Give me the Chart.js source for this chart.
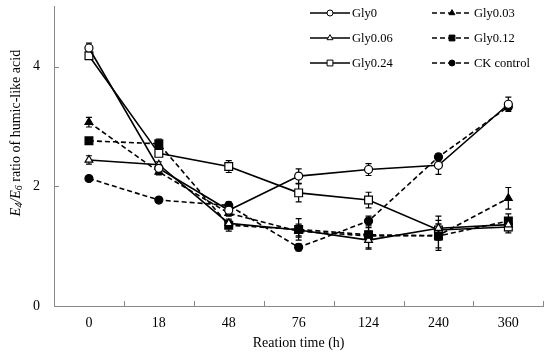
<!DOCTYPE html>
<html>
<head>
<meta charset="utf-8">
<script src="https://cdn.jsdelivr.net/npm/chart.js@4.4.0/dist/chart.umd.min.js"></script>
<style>
  html, body { margin: 0; padding: 0; background: #fff; }
</style>
</head>
<body>
<canvas id="mycanvas" width="550" height="358"></canvas>
<script>
// reaction time categories (h)
var times = ['0', '18', '48', '76', '124', '240', '360'];
var yTicks = [0, 2, 4];

// E4/E6 ratio
var gly0   = [4.31, 2.30, 1.60, 2.17, 2.28, 2.35, 3.37];
var gly003 = [3.07, 2.24, 1.55, 1.25, 1.17, 1.18, 1.80];
var gly006 = [2.44, 2.36, 1.38, 1.27, 1.10, 1.30, 1.36];
var gly012 = [2.76, 2.71, 1.35, 1.28, 1.19, 1.17, 1.42];
var gly024 = [4.18, 2.55, 2.33, 1.89, 1.77, 1.27, 1.32];
var ck     = [2.13, 1.77, 1.68, 0.98, 1.42, 2.49, 3.33];

// error bar half-widths
var err0   = [0.08, 0.05, 0.08, 0.12, 0.10, 0.15, 0.12];
var err003 = [0.08, 0.05, 0.05, 0.10, 0.20, 0.25, 0.18];
var err006 = [0.07, 0.05, 0.05, 0.10, 0.15, 0.20, 0.10];
var err012 = [0.05, 0.08, 0.10, 0.18, 0.12, 0.20, 0.12];
var err024 = [0.05, 0.05, 0.10, 0.15, 0.13, 0.10, 0.10];
var errCk  = [0.04, 0.04, 0.06, 0.06, 0.08, 0.05, 0.05];

var serif = "'Liberation Serif', 'Times New Roman', serif";

function series(label, data, errs, style, filled, dashed, radius) {
    return {
        label: label,
        data: data,
        errors: errs,
        borderColor: '#000',
        backgroundColor: '#000',
        borderWidth: 1.6,
        borderDash: dashed ? [5, 3] : [],
        pointStyle: style,
        pointRadius: radius,
        pointBorderWidth: 1.2,
        pointBorderColor: '#000',
        pointBackgroundColor: filled ? '#000' : '#fff',
        tension: 0
    };
}

var datasets = [
    series('Gly0', gly0, err0, 'circle', false, false, 4),
    series('Gly0.03', gly003, err003, 'triangle', true, true, 4.5),
    series('Gly0.06', gly006, err006, 'triangle', false, false, 4.5),
    series('Gly0.12', gly012, err012, 'rect', true, true, 5.5),
    series('Gly0.24', gly024, err024, 'rect', false, false, 5.5),
    series('CK control', ck, errCk, 'circle', true, true, 4)
];

// error bars, drawn under the markers
var errorBars = {
    id: 'errorBars',
    beforeDatasetsDraw: function(chart) {
        var ctx = chart.ctx;
        var xs = chart.scales.x, ys = chart.scales.y;
        ctx.save();
        ctx.strokeStyle = '#000';
        ctx.lineWidth = 1.2;
        ctx.setLineDash([]);
        chart.data.datasets.forEach(function(ds) {
            ds.data.forEach(function(v, i) {
                var e = ds.errors[i];
                var x = xs.getPixelForValue(i);
                var y1 = ys.getPixelForValue(v + e), y2 = ys.getPixelForValue(v - e);
                ctx.beginPath();
                ctx.moveTo(x, y1); ctx.lineTo(x, y2);
                ctx.moveTo(x - 3, y1); ctx.lineTo(x + 3, y1);
                ctx.moveTo(x - 3, y2); ctx.lineTo(x + 3, y2);
                ctx.stroke();
            });
        });
        ctx.restore();
    }
};

// inward tick marks, y title and the two-column legend
var decorations = {
    id: 'decorations',
    afterDraw: function(chart) {
        var ctx = chart.ctx;
        var xs = chart.scales.x, ys = chart.scales.y;
        var area = chart.chartArea;
        ctx.save();
        ctx.strokeStyle = '#888';
        ctx.lineWidth = 1;
        ctx.beginPath();
        yTicks.forEach(function(v) {
            var y = Math.round(ys.getPixelForValue(v)) + 0.5;
            ctx.moveTo(area.left, y); ctx.lineTo(area.left + 5, y);
        });
        for (var i = 1; i <= times.length; i++) {
            var x = Math.round(xs.getPixelForValue(i - 0.5)) + 0.5;
            ctx.moveTo(x, area.bottom); ctx.lineTo(x, area.bottom - 5);
        }
        ctx.stroke();

        // y axis title with italic E and subscripts
        var parts = [
            { t: 'E', f: 'italic 14px ' + serif, dy: 0 },
            { t: '4', f: 'italic 10px ' + serif, dy: 3 },
            { t: '/', f: 'italic 14px ' + serif, dy: 0 },
            { t: 'E', f: 'italic 14px ' + serif, dy: 0 },
            { t: '6', f: 'italic 10px ' + serif, dy: 3 },
            { t: ' ratio of humic-like acid', f: '14px ' + serif, dy: 0 }
        ];
        var total = 0;
        parts.forEach(function(p) { ctx.font = p.f; p.w = ctx.measureText(p.t).width; total += p.w; });
        ctx.translate(16, 133);
        ctx.rotate(-Math.PI / 2);
        ctx.fillStyle = '#000';
        ctx.textBaseline = 'middle';
        var px = -total / 2;
        parts.forEach(function(p) {
            ctx.font = p.f;
            ctx.fillText(p.t, px, p.dy);
            px += p.w;
        });
        ctx.setTransform(1, 0, 0, 1, 0, 0);

        // legend: three rows, two columns
        var cols = [310, 432], rows = [13, 38, 63];
        chart.data.datasets.forEach(function(ds, k) {
            var x0 = cols[k % 2], y = rows[Math.floor(k / 2)];
            ctx.strokeStyle = '#000';
            ctx.lineWidth = 1.6;
            ctx.setLineDash(ds.borderDash);
            ctx.beginPath();
            ctx.moveTo(x0, y); ctx.lineTo(x0 + 40, y);
            ctx.stroke();
            ctx.setLineDash([]);
            ctx.lineWidth = 1;
            ctx.fillStyle = ds.pointBackgroundColor;
            Chart.helpers.drawPoint(ctx, { pointStyle: ds.pointStyle, radius: ds.pointRadius * 0.75, rotation: 0, borderWidth: 1 }, x0 + 20, y);
            ctx.fillStyle = '#000';
            ctx.font = '12.5px ' + serif;
            ctx.textBaseline = 'middle';
            ctx.fillText(ds.label, x0 + 42, y + 1);
        });
        ctx.restore();
    }
};

new Chart(document.getElementById('mycanvas'), {
    type: 'line',
    data: { labels: times, datasets: datasets },
    options: {
        responsive: false,
        animation: false,
        devicePixelRatio: 1,
        layout: { padding: { top: 1, right: 6, left: 0, bottom: 0 } },
        plugins: { legend: { display: false }, tooltip: { enabled: false } },
        scales: {
            x: {
                type: 'category',
                offset: true,
                grid: { display: false, drawTicks: false },
                border: { display: true, color: '#888', width: 1 },
                ticks: { color: '#000', font: { family: serif, size: 14 }, padding: 9, maxRotation: 0 },
                title: { display: true, text: 'Reation time (h)', color: '#000', font: { family: serif, size: 14 }, padding: { top: 4, bottom: 6 } },
                afterFit: function(s) { s.height = 52; s.paddingLeft = 0; s.paddingRight = 0; }
            },
            y: {
                min: 0,
                max: 5,
                grid: { display: false, drawTicks: false },
                border: { display: true, color: '#888', width: 1 },
                ticks: { color: '#000', font: { family: serif, size: 14 }, padding: 14 },
                afterBuildTicks: function(s) { s.ticks = yTicks.map(function(v) { return { value: v }; }); },
                afterFit: function(s) { s.width = 54; s.paddingTop = 0; s.paddingBottom = 0; }
            }
        }
    },
    plugins: [errorBars, decorations]
});
</script>
</body>
</html>
